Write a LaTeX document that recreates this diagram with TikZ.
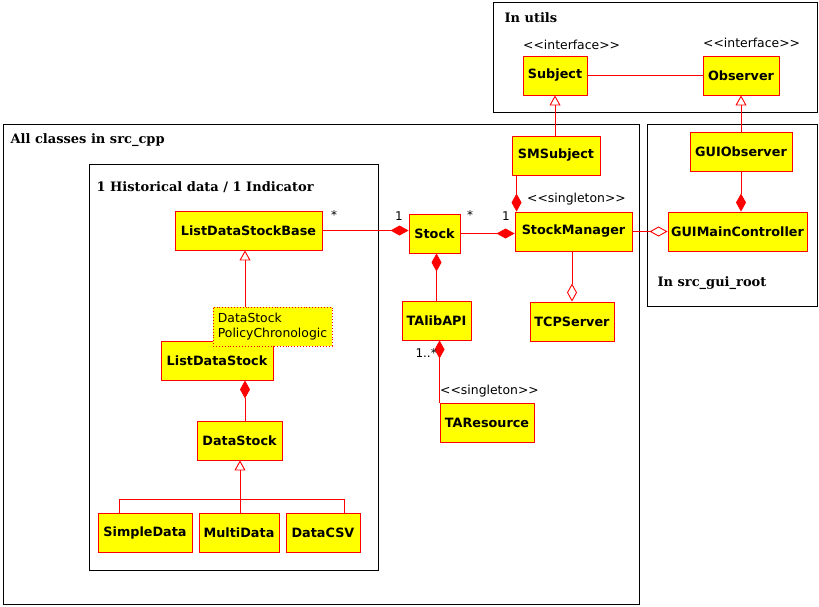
\documentclass[tikz,border=0pt]{standalone}
\usepackage{fontspec}
\setsansfont{DejaVu Sans}
\newfontfamily\framefont{DejaVu Serif}
\usetikzlibrary{arrows.meta}
\definecolor{clsfill}{rgb}{1,1,0}
\begin{document}
\begin{tikzpicture}[x=1pt,y=-1pt,line cap=butt,line join=miter,
    cls/.style={draw=red,fill=clsfill,line width=0.9pt,inner sep=0pt,minimum height=39,font=\sffamily\bfseries\fontsize{12.8}{14}\selectfont},
    notebox/.style={draw=red,fill=clsfill,dotted,line width=0.9pt,inner sep=3pt,align=left,minimum width=119,minimum height=39,font=\sffamily\fontsize{12.4}{15}\selectfont},
    frame/.style={draw=black,line width=1pt},
    frametext/.style={anchor=west,font=\framefont\bfseries\fontsize{13}{15}\selectfont},
    stereo/.style={anchor=south west,inner sep=0pt,font=\sffamily\fontsize{12.4}{14}\selectfont},
    mult/.style={inner sep=0pt,font=\sffamily\fontsize{12}{14}\selectfont},
    link/.style={draw=red,line width=0.9pt},
    comp/.style={link,-{Diamond[length=18pt,width=10pt]},red},
    agg/.style={link,-{Diamond[open,length=18pt,width=10pt]}},
    inh/.style={link,-{Triangle[open,length=10pt,width=11pt]}}]

    \useasboundingbox (0,0) rectangle (819,606);
    %\draw [step=50] (0,0) grid (819,606);

    % packages
    \draw [frame] (493,2) rectangle (817,112);
    \draw [frame] (3,124) rectangle (639,604);
    \draw [frame] (647,124) rectangle (817,306);
    \draw [frame] (89,164) rectangle (378,570);
    \node [frametext] (utilslbl) at (501,18) {In utils};
    \node [frametext] (cpplbl) at (7,140) {All classes in src\_cpp};
    \node [frametext] (guilbl) at (654,283) {In src\_gui\_root};
    \node [frametext] (histlbl) at (93,187) {1 Historical data / 1 Indicator};

    % utils
    \node [cls,minimum width=64] (subject) at (555,75.5) {Subject};
    \node [cls,minimum width=76] (observer) at (741,75.5) {Observer};
    \node [stereo] (subjst) at (523,50) {<{}<interface>{}>};
    \node [stereo] (obsst) at (703,48) {<{}<interface>{}>};

    % src_cpp
    \node [cls,minimum width=88] (smsubject) at (556,155.5) {SMSubject};
    \node [cls,minimum width=147] (ldsbase) at (248.5,230.5) {ListDataStockBase};
    \node [cls,minimum width=51] (stock) at (434.5,233.5) {Stock};
    \node [cls,minimum width=117] (stockmgr) at (573.5,231.5) {StockManager};
    \node [stereo] (smst) at (527,205) {<{}<singleton>{}>};
    \node [cls,minimum width=69] (talib) at (436.5,320.5) {TAlibAPI};
    \node [cls,minimum width=84] (tcp) at (572,321.5) {TCPServer};
    \node [cls,minimum width=94] (tares) at (487,422.5) {TAResource};
    \node [stereo] (tast) at (440,397) {<{}<singleton>{}>};

    % historical data
    \node [cls,minimum width=112] (lds) at (217,360.5) {ListDataStock};
    \node [notebox] (policy) at (272.5,326.5) {DataStock\\PolicyChronologic};
    \node [cls,minimum width=85] (datastock) at (239.5,440.5) {DataStock};
    \node [cls,minimum width=94] (simple) at (145,532.5) {SimpleData};
    \node [cls,minimum width=80] (multi) at (239,532.5) {MultiData};
    \node [cls,minimum width=74] (csv) at (323,532.5) {DataCSV};

    % src_gui_root
    \node [cls,minimum width=102] (guiobs) at (741,151.5) {GUIObserver};
    \node [cls,minimum width=139] (guimain) at (737.5,231.5) {GUIMainController};

    % links
    \draw [link] (subject) -- (observer);
    \draw [inh] (smsubject.north -| subject.south) -- (subject.south);
    \draw [inh] (guiobs.north) -- (observer.south);
    \draw [comp] (guiobs.south) -- (guimain.north -| guiobs.south);
    \draw [comp] ([xshift=5]smsubject.south west) -- ([xshift=5]smsubject.south west |- stockmgr.north);
    \draw [comp] (ldsbase.east) -- (ldsbase.east -| stock.west);
    \draw [comp] (stock.east) -- (stock.east -| stockmgr.west);
    \draw [agg] (stockmgr.east) -- (guimain.west);
    \draw [agg] (stockmgr.south -| tcp.north) -- (tcp.north);
    \draw [comp] (talib.north) -- (talib.north |- stock.south);
    \draw [comp] (tares.north west) -- (tares.north west |- talib.south);
    \draw [inh] (policy.north -| 245,0) -- (ldsbase.south -| 245,0);
    \draw [comp] (datastock.north -| 245,0) -- (lds.south -| 245,0);

    \coordinate (split) at (240,499);
    \draw [inh] (multi.north -| split) -- (datastock.south -| split);
    \draw [link] (simple.north -| 119,0) |- (split) -| (csv.north -| 344,0);

    % multiplicities
    \node [mult] (m1) at (334,215) {*};
    \node [mult] (m2) at (399,216) {1};
    \node [mult] (m3) at (470,215) {*};
    \node [mult] (m4) at (506,216) {1};
    \node [mult,anchor=east] (m5) at (437,353) {1..*};
\end{tikzpicture}
\end{document}
